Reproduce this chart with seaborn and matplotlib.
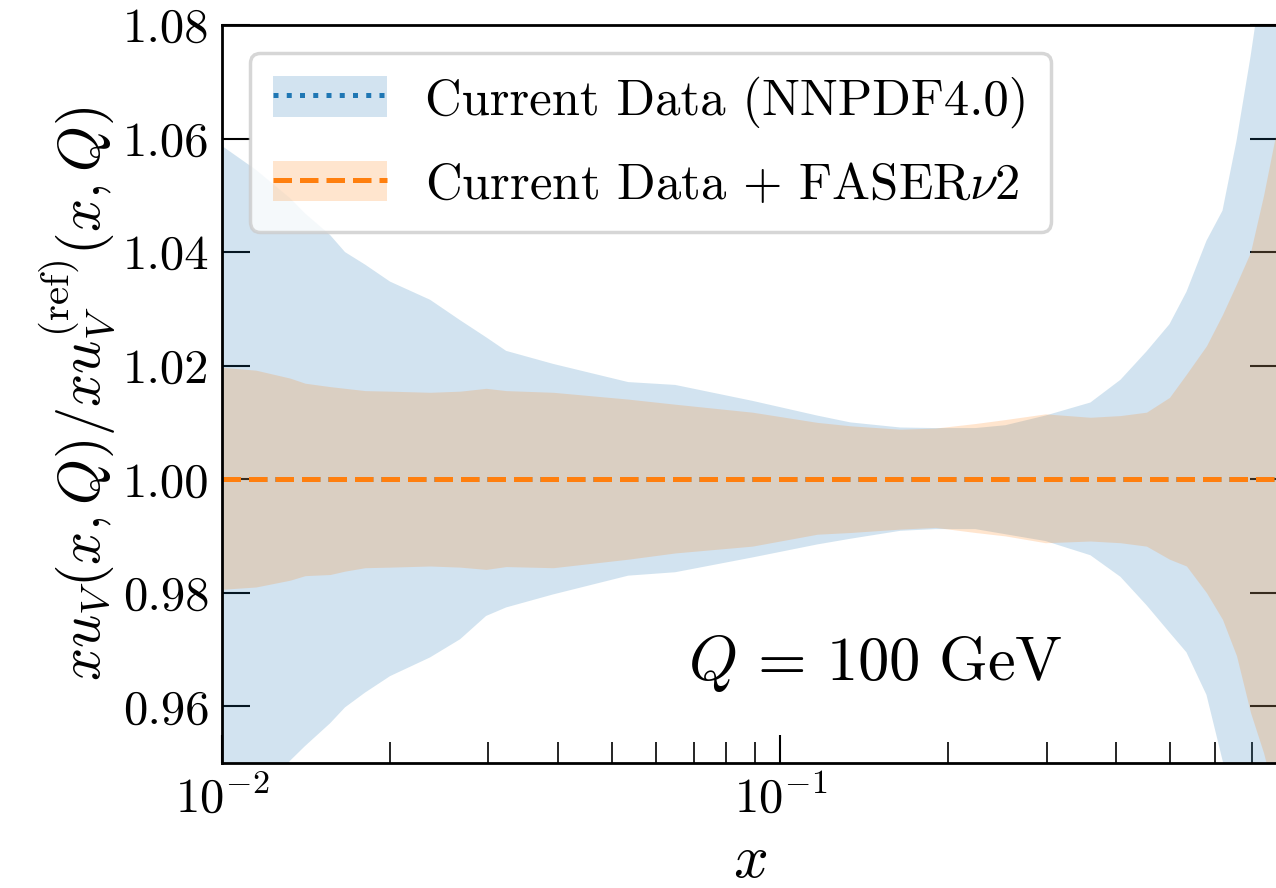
import numpy as np
import pandas as pd
import seaborn as sns
import matplotlib.pyplot as plt
from matplotlib.patches import Patch
from matplotlib.lines import Line2D

###################
# Data
x_grid = [0.0100, 0.0115, 0.01324, 0.01409, 0.01562, 0.01661, 0.01804, 0.0200,
          0.02359, 0.0267, 0.02972, 0.03228, 0.0392, 0.05341, 0.06483, 0.08909,
          0.1165, 0.1335, 0.1641, 0.1896, 0.2236, 0.2530, 0.2985, 0.3593,
          0.4067, 0.4529, 0.4979, 0.5340, 0.5800, 0.6196, 0.6565, 0.6955,
          0.7340, 0.7873]

nnpdf_upper = [1.0587, 1.0545, 1.0495, 1.0468, 1.0430, 1.0400, 1.0378, 1.0348,
               1.0316, 1.0280, 1.0250, 1.0226, 1.0203, 1.0171, 1.0166, 1.0138,
               1.0112, 1.0100, 1.0091, 1.0090, 1.0090, 1.0095, 1.0112, 1.0135,
               1.0175, 1.0225, 1.0273, 1.0330, 1.0420, 1.0473, 1.0596, 1.0744,
               1.0900, 1.1100]
nnpdf_lower = [0.9350, 0.9420, 0.9504, 0.9530, 0.9570, 0.9598, 0.9624, 0.9653,
               0.9686, 0.9718, 0.9759, 0.9774, 0.9797, 0.9830, 0.9836, 0.9862,
               0.9885, 0.9895, 0.9909, 0.9912, 0.9912, 0.9903, 0.9891, 0.9866,
               0.9828, 0.9778, 0.9730, 0.9695, 0.9620, 0.9505, 0.9400, 0.9300,
               0.9200, 0.9100]

faser_upper = [1.0197, 1.0192, 1.0178, 1.0169, 1.0163, 1.0160, 1.0156, 1.0155,
               1.0153, 1.0155, 1.0160, 1.0156, 1.0153, 1.0141, 1.0132, 1.0118,
               1.0100, 1.0094, 1.0088, 1.0090, 1.0098, 1.0105, 1.0115, 1.0109,
               1.0112, 1.0118, 1.0144, 1.0185, 1.0235, 1.0290, 1.0344, 1.0400,
               1.0500, 1.0650]
faser_lower = [0.9806, 0.9810, 0.9822, 0.9830, 0.9832, 0.9838, 0.9844, 0.9845,
               0.9847, 0.9845, 0.9841, 0.9846, 0.9844, 0.9859, 0.9870, 0.9882,
               0.9903, 0.9906, 0.9912, 0.9915, 0.9906, 0.9900, 0.9888, 0.9891,
               0.9888, 0.9882, 0.9859, 0.9847, 0.9800, 0.9753, 0.9689, 0.9589,
               0.9518, 0.9400]

central = [1.0] * len(x_grid)

labels = ["Current Data (NNPDF4.0)", r"Current Data $+$ FASER$\nu$2"]
yticks = [0.96, 0.98, 1.00, 1.02, 1.04, 1.06, 1.08]

###################
# Setup
sns.set_style("ticks")
plt.rcParams["font.family"] = "serif"
plt.rcParams["font.serif"] = ["cmr10"]
plt.rcParams["mathtext.fontset"] = "cm"
plt.rcParams["axes.formatter.use_mathtext"] = True
for key in ["text.color", "axes.labelcolor", "xtick.color", "ytick.color", "axes.edgecolor"]:
    plt.rcParams[key] = "black"

df = pd.DataFrame({"x": x_grid, "central": central})

fig = plt.figure(figsize=(12.76, 8.88), dpi=100)
ax = fig.add_axes([0.174, 0.1408, 0.8278, 0.831])

ax.fill_between(x_grid, nnpdf_lower, nnpdf_upper, color="C0", alpha=0.2, lw=0)
ax.fill_between(x_grid, faser_lower, faser_upper, color="C1", alpha=0.2, lw=0)
sns.lineplot(data=df, x="x", y="central", ax=ax, color="C0", ls=":", lw=3.6)
sns.lineplot(data=df, x="x", y="central", ax=ax, color="C1", ls="--", lw=3.6)

ax.set_xscale("log")
ax.set_xlim(0.01, 0.78)
ax.set_ylim(0.95, 1.08)
ax.set_yticks(yticks)
ax.set_yticklabels([f"{t:.2f}" for t in yticks])

ax.tick_params(which="both", direction="in", right=True, labelsize=35, pad=9)
ax.tick_params(which="major", length=20, width=1.5)
ax.tick_params(which="minor", length=15, width=1.2)
for s in ax.spines.values():
    s.set_linewidth(2)

ax.set_xlabel(r"$x$", fontsize=44, labelpad=8)
ax.set_ylabel(r"$xu_V(x,Q)/xu_V^{(\rm ref)}(x,Q)$", fontsize=42)

ax.text(0.441, 0.112, r"$Q\,=\,100\ \mathrm{GeV}$", transform=ax.transAxes,
        fontsize=45, ha="left", va="baseline")

handles = [
    (Patch(facecolor="C0", alpha=0.2, lw=0), Line2D([], [], color="C0", ls=":", lw=3.6)),
    (Patch(facecolor="C1", alpha=0.2, lw=0), Line2D([], [], color="C1", ls="--", lw=3.6)),
]
leg = ax.legend(handles, labels, loc="upper left", bbox_to_anchor=(0.0265, 0.962),
                borderaxespad=0, fontsize=36.5, handlelength=2.25, handleheight=0.85,
                handletextpad=0.75, labelspacing=0.66, borderpad=0.45, framealpha=0.8)
leg.get_frame().set_edgecolor("0.8")
leg.get_frame().set_linewidth(2.5)

###################
# Export
fig.savefig("out.png", dpi=100)
